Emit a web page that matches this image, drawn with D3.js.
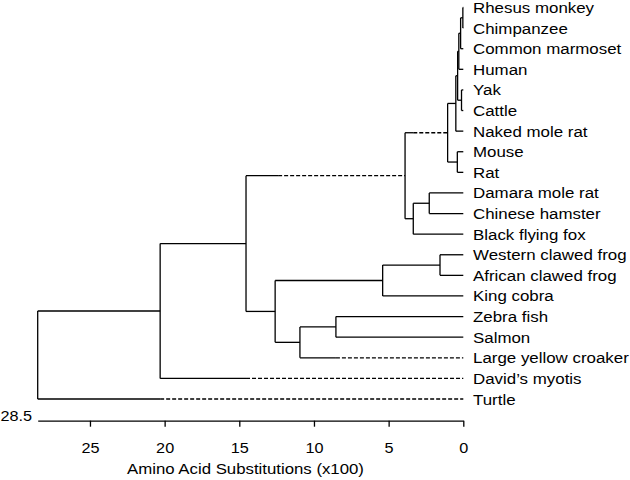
<!DOCTYPE html>
<html>
<head>
<meta charset="utf-8">
<script src="https://cdn.jsdelivr.net/npm/d3@7"></script>
<style>
  html, body { margin: 0; padding: 0; background: #fff; }
  svg { display: block; }
  text { font-family: "Liberation Sans", Arial, sans-serif; fill: #000; }
</style>
</head>
<body>
<svg id="chart" width="630" height="480"></svg>
<script>
// ---- data: tree as a parent table ----
const nodeIds = [
  "root", "A", "Turtle", "B", "David\u2019s myotis", "C", "D",
  "E", "F", "H", "G", "I", "Naked mole rat", "P3", "YC", "P2", "Human",
  "P1", "Common marmoset", "Rhesus monkey", "Chimpanzee", "Yak", "Cattle",
  "Mouse", "Rat", "DH", "Black flying fox", "Damara mole rat", "Chinese hamster",
  "K", "L", "Frogs", "King cobra", "Western clawed frog", "African clawed frog",
  "Fish", "Large yellow croaker", "Zebra fish", "Salmon"
];
const nodeParents = [
  "", "root", "root", "A", "A", "B", "B",
  "C", "C", "E", "E", "H", "H", "I", "I", "P3", "P3",
  "P2", "P2", "P1", "P1", "YC", "YC",
  "G", "G", "F", "F", "DH", "DH",
  "D", "D", "K", "K", "Frogs", "Frogs",
  "L", "L", "Fish", "Fish"
];
// node depth in amino acid substitutions (x100)
const nodeHeights = [
  28.5, 20.3, 0, 14.55, 0, 3.9, 12.6,
  1.05, 3.35, 0.5, 0.4, 0.38, 0, 0.3, 0.12, 0.18, 0,
  0.03, 0, 0, 0, 0, 0,
  0, 0, 2.28, 0, 0, 0,
  5.4, 10.94, 1.56, 0, 0, 0,
  8.53, 0, 0, 0
];
// where a branch turns dashed (null = fully solid)
const dashStarts = [
  null, null, 20.3, null, 14.55, 12.4, null,
  3.35, null, null, null, null, null, null, null, null, null,
  null, null, null, null, null, null,
  null, null, null, null, null, null,
  null, null, null, null, null, null,
  null, 8.53, null, null
];
const tickValues = [25, 20, 15, 10, 5, 0];
const axisMax = 28.5;
const axisTitle = "Amino Acid Substitutions (x100)";

// ---- layout ----
const svg = d3.select("#chart");
const x = d3.scaleLinear().domain([axisMax, 0]).range([37.7, 463.3]);

const rows = nodeIds.map((id, i) => ({
  id, parent: nodeParents[i] || null, h: nodeHeights[i], dash: dashStarts[i]
}));
const root = d3.stratify().id(d => d.id).parentId(d => d.parent)(rows);
const leaves = root.leaves();
const y = d3.scaleLinear().domain([0, leaves.length - 1]).range([7.5, 399]);
leaves.forEach((l, i) => { l.py = y(i); });
root.eachAfter(n => {
  if (n.children) n.py = (n.children[0].py + n.children[n.children.length - 1].py) / 2;
  n.px = x(n.data.h);
});

const g = svg.append("g")
  .attr("fill", "none").attr("stroke", "#000").attr("stroke-width", 1.3);

// vertical connectors
root.descendants().filter(n => n.children).forEach(n => {
  g.append("line")
    .attr("x1", n.px).attr("x2", n.px)
    .attr("y1", n.children[0].py).attr("y2", n.children[n.children.length - 1].py);
});
// horizontal branches
root.descendants().filter(n => n.parent).forEach(n => {
  const x0 = n.parent.px;
  if (n.data.dash != null) {
    const xm = x(n.data.dash);
    g.append("line").attr("x1", x0).attr("x2", xm).attr("y1", n.py).attr("y2", n.py);
    g.append("line").attr("x1", xm).attr("x2", n.px).attr("y1", n.py).attr("y2", n.py)
      .attr("stroke-dasharray", "4,2");
  } else {
    g.append("line").attr("x1", x0).attr("x2", n.px).attr("y1", n.py).attr("y2", n.py);
  }
});

// leaf labels
const sx = 1.09;
svg.append("g").selectAll("text").data(leaves).join("text")
  .attr("transform", d => `translate(473,${d.py + 5.5}) scale(${sx},1)`)
  .attr("font-size", 15.5)
  .text(d => d.id);

// ---- axis ----
const axisY = 420.7;
const axis = d3.axisBottom(x).tickValues(tickValues).tickSize(6).tickSizeOuter(0).tickPadding(16);
const ag = svg.append("g").attr("transform", `translate(0,${axisY})`).call(axis);
ag.select(".domain").attr("stroke", "#000").attr("stroke-width", 1.3);
ag.selectAll(".tick line").attr("stroke", "#000").attr("stroke-width", 1.3);
ag.selectAll(".tick text")
  .attr("font-size", 14.5).attr("font-family", "Liberation Sans, Arial, sans-serif")
  .attr("fill", "#000").attr("transform", `scale(1.12,1)`);

svg.append("text")
  .attr("transform", `translate(32,420.5) scale(1.12,1)`)
  .attr("text-anchor", "end").attr("font-size", 14.5)
  .text(String(axisMax));

svg.append("text")
  .attr("transform", `translate(245.5,474) scale(1.12,1)`)
  .attr("text-anchor", "middle").attr("font-size", 15)
  .text(axisTitle);
</script>
</body>
</html>
